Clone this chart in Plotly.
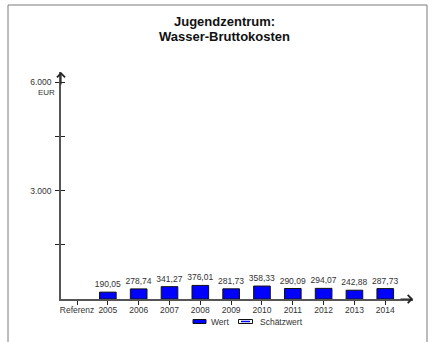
import plotly.graph_objects as go

categories = ["Referenz", "2005", "2006", "2007", "2008", "2009", "2010", "2011", "2012", "2013", "2014"]
wert = [None, 190.05, 278.74, 341.27, 376.01, 281.73, 358.33, 290.09, 294.07, 242.88, 287.73]
schaetzwert = [None] * 11
y_tickvals = [1500, 3000, 4500, 6000]
y_ticktext = ["", "3.000", "", "6.000"]
title_lines = ["Jugendzentrum:", "Wasser-Bruttokosten"]

FONT = "Liberation Sans, Arial, sans-serif"
TXT = "#333333"
AX = "#555555"

# pixel geometry helpers (plot area: x 61..413, y 72..299)
L, R, T, B = 61, 413, 72, 299
W, H = R - L, B - T
def px(x):
    return (x - L) / W
def py(y):
    return (B - y) / H

xs = list(range(len(categories)))
labels = ["" if v is None else f"{v:.2f}".replace(".", ",") for v in wert]

fig = go.Figure()
fig.add_trace(go.Bar(
    x=xs, y=wert, name="Wert", width=0.54,
    marker=dict(color="#0000FF", line=dict(color="#111111", width=1)),
    text=labels, texttemplate="%{text}", textposition="outside", constraintext="none",
    textfont=dict(family=FONT, size=8.5, color=TXT),
    cliponaxis=False, showlegend=False,
))
fig.add_trace(go.Bar(
    x=xs, y=schaetzwert, name="Schätzwert", width=0.54,
    marker=dict(color="white", line=dict(color="#111111", width=1),
                pattern=dict(shape="-", fgcolor="#0000FF")),
    showlegend=False,
))
# invisible overlay trace on y2 to get inside ticks
fig.add_trace(go.Scatter(x=[None], y=[None], yaxis="y2", showlegend=False, hoverinfo="skip"))

shapes = []
annotations = []

# outer frame
shapes.append(dict(type="rect", xref="paper", yref="paper",
                   x0=px(8), x1=px(427), y0=py(350), y1=py(5),
                   line=dict(color="#7a7a7a", width=1), fillcolor="rgba(0,0,0,0)", layer="below"))

# title (two lines)
for line, yc in zip(title_lines, [21.5, 36.5]):
    annotations.append(dict(text=f"<b>{line}</b>", xref="paper", yref="paper",
                            x=px(224), y=py(yc), xanchor="center", yanchor="middle", showarrow=False,
                            font=dict(family=FONT, size=13, color="#111111")))
# EUR unit under 6.000
annotations.append(dict(text="EUR", xref="paper", yref="y", x=px(46), y=6000, yshift=-10,
                        xanchor="center", yanchor="middle", showarrow=False,
                        font=dict(family=FONT, size=8, color=TXT)))
# axis arrowheads
annotations.append(dict(text="", xref="paper", yref="paper", x=1, y=0, ax=-14, ay=0.001,
                        axref="pixel", ayref="pixel", showarrow=True, arrowhead=4,
                        arrowsize=1.3, arrowwidth=1.2, arrowcolor="#222222"))
annotations.append(dict(text="", xref="paper", yref="paper", x=0, y=1, ax=0.001, ay=14,
                        axref="pixel", ayref="pixel", showarrow=True, arrowhead=4,
                        arrowsize=1.3, arrowwidth=1.2, arrowcolor="#222222"))

# manual legend
LEG_Y = 321.5
ly = py(LEG_Y)
shapes.append(dict(type="rect", xref="paper", yref="paper", x0=px(193), x1=px(206),
                   y0=py(LEG_Y + 2), y1=py(LEG_Y - 2), fillcolor="#0000FF", line=dict(color="#111111", width=1)))
annotations.append(dict(text="Wert", xref="paper", yref="paper", x=px(208.5), y=ly,
                        xanchor="left", yanchor="middle", showarrow=False,
                        font=dict(family=FONT, size=8.5, color=TXT)))
shapes.append(dict(type="rect", xref="paper", yref="paper", x0=px(238.5), x1=px(252.5),
                   y0=py(LEG_Y + 2), y1=py(LEG_Y - 2), fillcolor="white", line=dict(color="#111111", width=1)))
shapes.append(dict(type="line", xref="paper", yref="paper", x0=px(241), x1=px(250),
                   y0=ly, y1=ly, line=dict(color="#0000FF", width=1.5)))
annotations.append(dict(text="Schätzwert", xref="paper", yref="paper", x=px(258), y=ly,
                        xanchor="left", yanchor="middle", showarrow=False,
                        font=dict(family=FONT, size=8.5, color=TXT)))

fig.update_layout(
    width=435, height=342,
    margin=dict(l=L, r=435 - R, t=T, b=342 - B),
    paper_bgcolor="white", plot_bgcolor="white",
    separators=",.",
    barmode="overlay",
    font=dict(family=FONT, size=8.5, color=TXT),
    xaxis=dict(range=[-0.52, 10.9], tickmode="array", tickvals=xs, ticktext=categories,
               showline=True, linecolor=AX, linewidth=1.5, showgrid=False, zeroline=False,
               ticks="outside", ticklen=4, tickcolor="#222222", tickwidth=1,
               tickfont=dict(family=FONT, size=8.5, color=TXT), ticklabelstandoff=-2,
               fixedrange=True),
    yaxis=dict(range=[0, 6280], tickmode="array", tickvals=y_tickvals, ticktext=y_ticktext,
               showline=True, linecolor=AX, linewidth=1.5, showgrid=False, zeroline=False,
               ticks="outside", ticklen=4, tickcolor="#222222", tickwidth=1,
               tickfont=dict(family=FONT, size=8.5, color=TXT), ticklabelstandoff=2),
    yaxis2=dict(range=[0, 6280], overlaying="y", anchor="x", side="left",
                tickmode="array", tickvals=y_tickvals, showticklabels=False,
                ticks="inside", ticklen=4, tickcolor="#222222", tickwidth=1,
                showline=False, showgrid=False, zeroline=False),
    shapes=shapes, annotations=annotations,
    showlegend=False,
)

fig.write_html("out.html", config={"displayModeBar": False},
               post_script="document.body.style.margin='0';document.body.style.overflow='hidden';")
